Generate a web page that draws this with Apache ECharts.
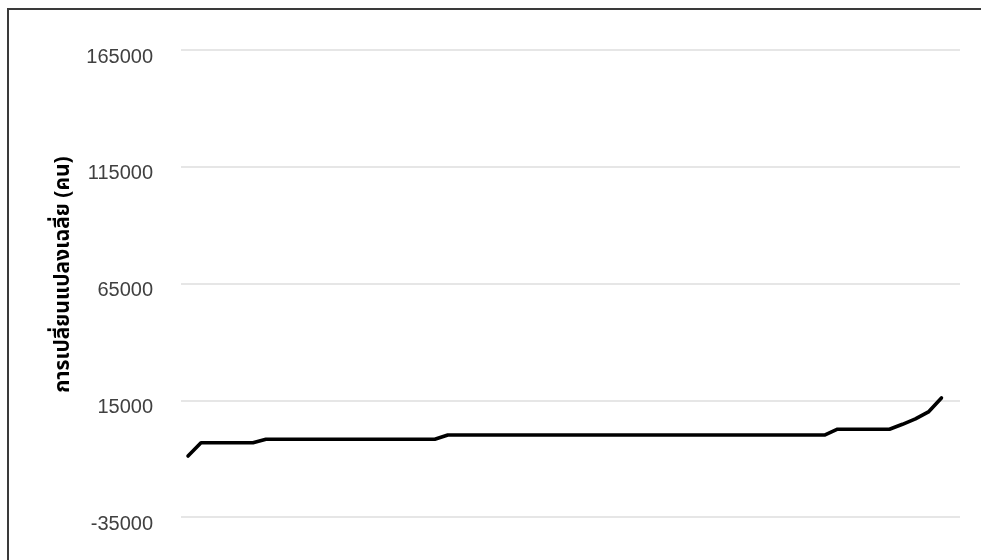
<!DOCTYPE html>
<html>
<head>
<meta charset="utf-8">
<script src="https://cdn.jsdelivr.net/npm/echarts@6/dist/echarts.min.js"></script>
<style>
html,body{margin:0;padding:0;background:#fff;}
#chart{width:981px;height:560px;}
</style>
</head>
<body>
<div id="chart"></div>
<script>
// Ordered positions (59 points, no visible category labels)
const positions = Array.from({length: 59}, (_, i) => i);
// Average change (persons)
const avgChange = [
  -8900,
  -3200, -3200, -3200, -3200, -3200,
  -1700, -1700, -1700, -1700, -1700, -1700, -1700, -1700, -1700, -1700, -1700, -1700, -1700, -1700,
  100, 100, 100, 100, 100, 100, 100, 100, 100, 100,
  100, 100, 100, 100, 100, 100, 100, 100, 100, 100,
  100, 100, 100, 100, 100, 100, 100, 100, 100, 100,
  2600, 2600, 2600, 2600, 2600,
  4700, 7000, 10000, 16000
];
const yTicks = [-35000, 15000, 65000, 115000, 165000];
const yTitle = 'การเปลี่ยนแปลงเฉลี่ย (คน)';

const chart = echarts.init(document.getElementById('chart'), null, {renderer: 'canvas'});
chart.setOption({
  backgroundColor: '#ffffff',
  animation: false,
  graphic: [{
    type: 'rect',
    shape: {x: 8, y: 9, width: 1100, height: 700},
    style: {fill: 'none', stroke: '#3a3a3a', lineWidth: 2},
    silent: true
  }],
  grid: {left: 181, right: 21, top: 50, bottom: 43},
  xAxis: {
    type: 'value',
    min: -0.54,
    max: 59.43,
    axisLine: {show: false},
    axisTick: {show: false},
    axisLabel: {show: false},
    splitLine: {show: false}
  },
  yAxis: {
    type: 'value',
    min: yTicks[0],
    max: yTicks[yTicks.length - 1],
    interval: 50000,
    name: yTitle,
    nameLocation: 'middle',
    nameRotate: 90,
    nameGap: 103,
    nameTextStyle: {
      fontFamily: "'Noto Sans Thai', 'Noto Sans', Tahoma, sans-serif",
      fontSize: 21,
      fontWeight: 'bold',
      color: '#000000',
      padding: [0, 0, 0, 18]
    },
    axisLine: {show: false},
    axisTick: {show: false},
    axisLabel: {
      margin: 28,
      fontFamily: "'Liberation Sans', Arial, sans-serif",
      fontSize: 20,
      lineHeight: 14,
      color: '#404040',
      verticalAlign: 'top',
      formatter: (v) => String(v)
    },
    splitLine: {lineStyle: {color: '#dedede', width: 1.5}}
  },
  series: [{
    type: 'line',
    data: positions.map((p, i) => [p, avgChange[i]]),
    showSymbol: false,
    lineStyle: {color: '#000000', width: 3.6, cap: 'round', join: 'round'},
    itemStyle: {color: '#000000'}
  }]
});
</script>
</body>
</html>
